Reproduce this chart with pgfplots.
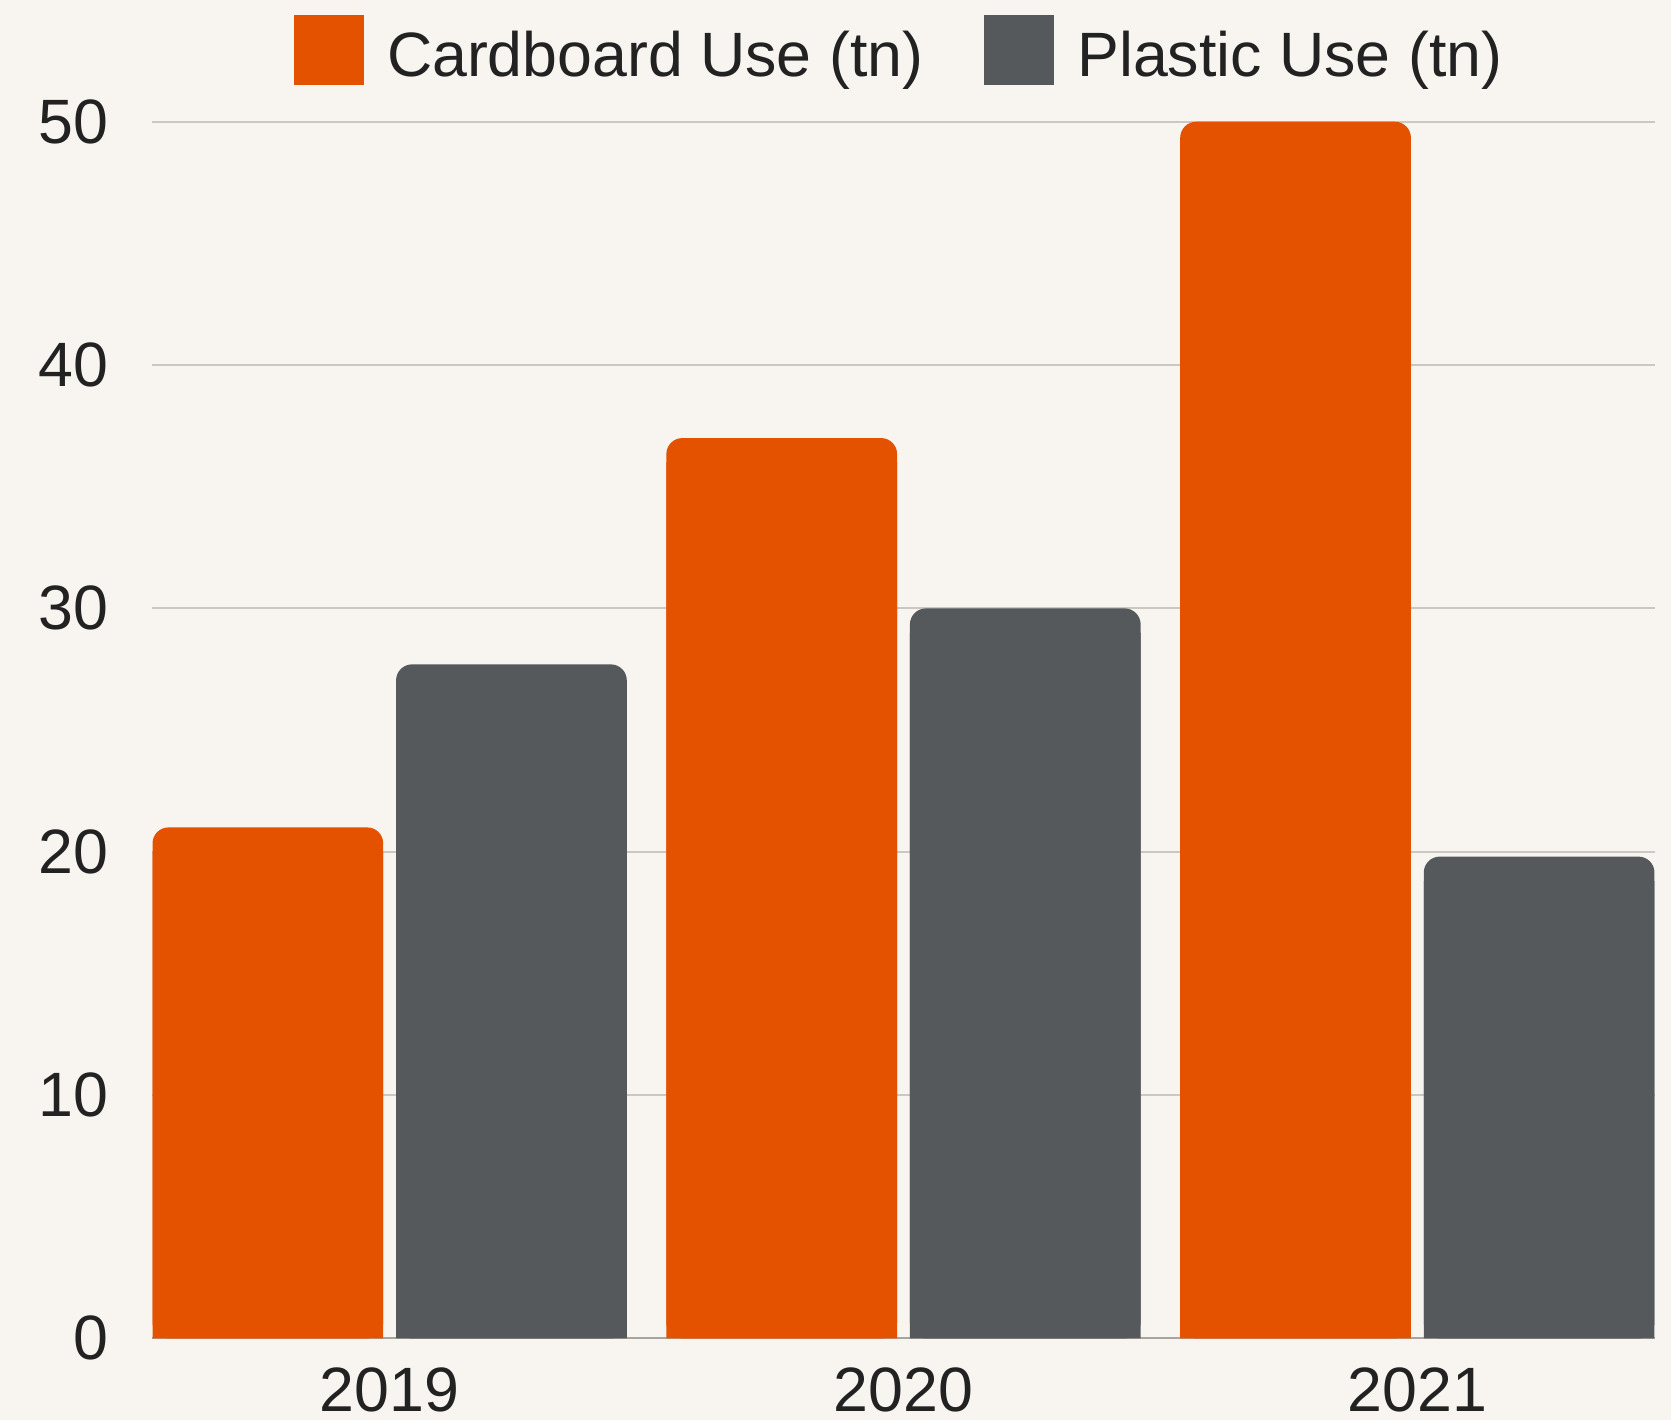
\documentclass[border=0pt]{standalone}
\usepackage{fontspec}
\setmainfont{Liberation Sans}
\usepackage{pgfplots}
\usepackage{pgfplotstable}
\pgfplotsset{compat=1.18}
\definecolor{bg}{HTML}{F8F5F0}
\definecolor{card}{HTML}{E45200}
\definecolor{plast}{HTML}{55595C}
\definecolor{gridc}{HTML}{CBC8C3}
\definecolor{axc}{HTML}{A8A5A0}
\definecolor{txt}{HTML}{222222}

\pgfplotstableread{
x card plast
0 21 27.7
1 37 30
2 50 19.8
}\data

\begin{document}
\begin{tikzpicture}
\fill[bg] (-45.6pt,-24.48pt) rectangle (455.7pt,401.52pt);
\begin{axis}[
  at={(0,0)}, anchor=south west,
  scale only axis, width=450.9pt, height=365pt,
  xmin=-0.4625, xmax=2.4625, ymin=0, ymax=50,
  xtick={0,1,2}, xticklabels={2019,2020,2021},
  ytick={0,10,20,30,40,50},
  ymajorgrids, grid style={gridc, line width=0.6pt},
  axis lines*=left,
  y axis line style={draw=none},
  x axis line style={draw=axc, line width=0.6pt},
  major tick length=0pt,
  tick style={draw=none},
  font=\fontsize{18.8}{22}\selectfont,
  ticklabel style={text=txt, inner sep=0pt},
  yticklabel style={xshift=-13pt},
  xticklabel style={yshift=-8.6pt},
  /pgf/number format/assume math mode=true,
  legend columns=2,
  legend style={at={(0.0945,1.0592)}, anchor=west, draw=none, fill=none,
    inner sep=0pt, outer sep=0pt, column sep=6.9pt,
    nodes={inner sep=0pt, text=txt},
    /tikz/every even column/.append style={column sep=18.3pt},
    font=\fontsize{18.8}{22}\selectfont},
  legend image code/.code={\fill[#1, sharp corners] (0pt,-8.6pt) rectangle (21pt,12.4pt);},
]
\addplot[ybar, bar width=0.449, bar shift=-0.237, fill=card, draw=none, rounded corners=4.8pt] table[x=x,y=card]{\data};
\addlegendentry{Cardboard Use (tn)}
\addplot[ybar, bar width=0.449, bar shift=0.237, fill=plast, draw=none, rounded corners=4.8pt] table[x=x,y=plast]{\data};
\addlegendentry{Plastic Use (tn)}
\addplot[ybar, forget plot, bar width=0.449, bar shift=-0.237, fill=card, draw=none] table[x=x,y expr=\thisrow{card}-1]{\data};
\addplot[ybar, forget plot, bar width=0.449, bar shift=0.237, fill=plast, draw=none] table[x=x,y expr=\thisrow{plast}-1]{\data};
\end{axis}
\pgfresetboundingbox
\path (-45.6pt,-24.48pt) rectangle (455.7pt,401.52pt);
\end{tikzpicture}
\end{document}
